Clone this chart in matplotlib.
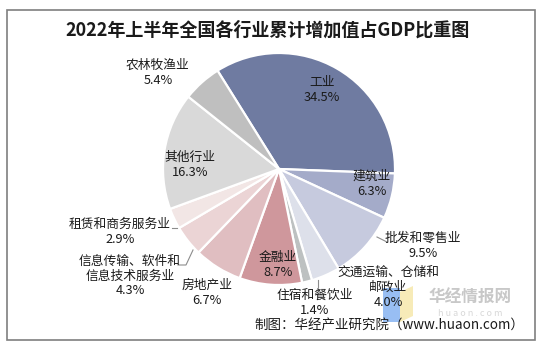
import matplotlib
matplotlib.use("Agg")
import matplotlib.pyplot as plt
from matplotlib.patches import Rectangle, Polygon

plt.rcParams['font.family'] = ['Noto Sans CJK SC', 'DejaVu Sans']

# 数据
industries = ["工业", "建筑业", "批发和零售业", "交通运输、仓储和\n邮政业", "住宿和餐饮业",
              "金融业", "房地产业", "信息传输、软件和\n信息技术服务业", "租赁和商务服务业",
              "其他行业", "农林牧渔业"]
shares = [34.5, 6.3, 9.5, 4.0, 1.4, 8.7, 6.7, 4.3, 2.9, 16.3, 5.4]
colors = ["#6F7BA1", "#A4ABC9", "#C6CADE", "#DDE0EA", "#BDC1C1",
          "#CF979C", "#E0BEC1", "#EBD4D5", "#F2E6E5", "#D9D9D9", "#BFBFBF"]

W, H = 538, 344
fig = plt.figure(figsize=(W / 100, H / 100), dpi=100)
fig.patch.set_facecolor("white")

# 饼图区域（像素坐标）
cx, cy, r = 279, 169, 116
ax = fig.add_axes([(cx - r) / W, (H - cy - r) / H, 2 * r / W, 2 * r / H])
ax.pie(shares, colors=colors, startangle=122, counterclock=False, radius=1.0,
       wedgeprops=dict(edgecolor="white", linewidth=1.6))
ax.set_xlim(-1, 1)
ax.set_ylim(-1, 1)
ax.set_aspect("auto")
ax.axis("off")

def px(x, y):
    return x / W, 1 - y / H

# 外框
fig.patches.append(Rectangle(px(7, 340), (535 - 7) / W, (340 - 10) / H,
                             transform=fig.transFigure, fill=False,
                             edgecolor="#7F7F7F", linewidth=1.2))

# 标题
fig.text(*px(268, 30), "2022年上半年全国各行业累计增加值占GDP比重图",
         ha="center", va="center", fontsize=13, fontweight="bold", color="#1A1A1A")

# 水印（置于标签之下）
fig.patches.append(Polygon([px(383, 288), px(400, 288), px(400, 322), px(383, 322)],
                           closed=True, transform=fig.transFigure,
                           facecolor="#7FAEF0", alpha=0.8, edgecolor="none", zorder=0))
fig.patches.append(Polygon([px(400, 292), px(413, 286), px(413, 316), px(400, 322)],
                           closed=True, transform=fig.transFigure,
                           facecolor="#F6E7A6", alpha=0.8, edgecolor="none", zorder=0))
fig.text(*px(470, 298), "华经情报网", ha="center", va="center", fontsize=12,
         fontweight="bold", color="#C8C8C8")
fig.text(*px(470, 313), "h u a o n . c o m", ha="center", va="center", fontsize=6.5,
         color="#D8D8D8")

# 数据标签位置（像素，文本块中心）
label_pos = [(322, 90), (372, 184), (423, 246), (388, 287), (315, 303),
             (278, 265), (207, 293), (130, 276), (120, 232), (190, 165), (158, 73)]
step = 15
for name, val, (x, y) in zip(industries, shares, label_pos):
    lines = name.split("\n") + [f"{val:.1f}%"]
    y0 = y - step * (len(lines) - 1) / 2
    for i, line in enumerate(lines):
        fig.text(*px(x, y0 + i * step), line, ha="center", va="center",
                 fontsize=9.2, color="#1A1A1A")

# 引导线
leaders = [
    [(377, 237), (387, 242)],
    [(318, 280), (318, 287)],
    [(193, 250), (186, 265), (178, 265)],
    [(177, 228), (172, 228)],
]
for pts in leaders:
    xs = [px(*p)[0] for p in pts]
    ys = [px(*p)[1] for p in pts]
    fig.add_artist(plt.Line2D(xs, ys, transform=fig.transFigure,
                              color="#8C8C8C", linewidth=0.8))

# 来源
fig.text(*px(524, 326), "制图：华经产业研究院（www.huaon.com）", ha="right", va="center",
         fontsize=9.7, color="#1A1A1A")

fig.savefig("out.png", dpi=100)
